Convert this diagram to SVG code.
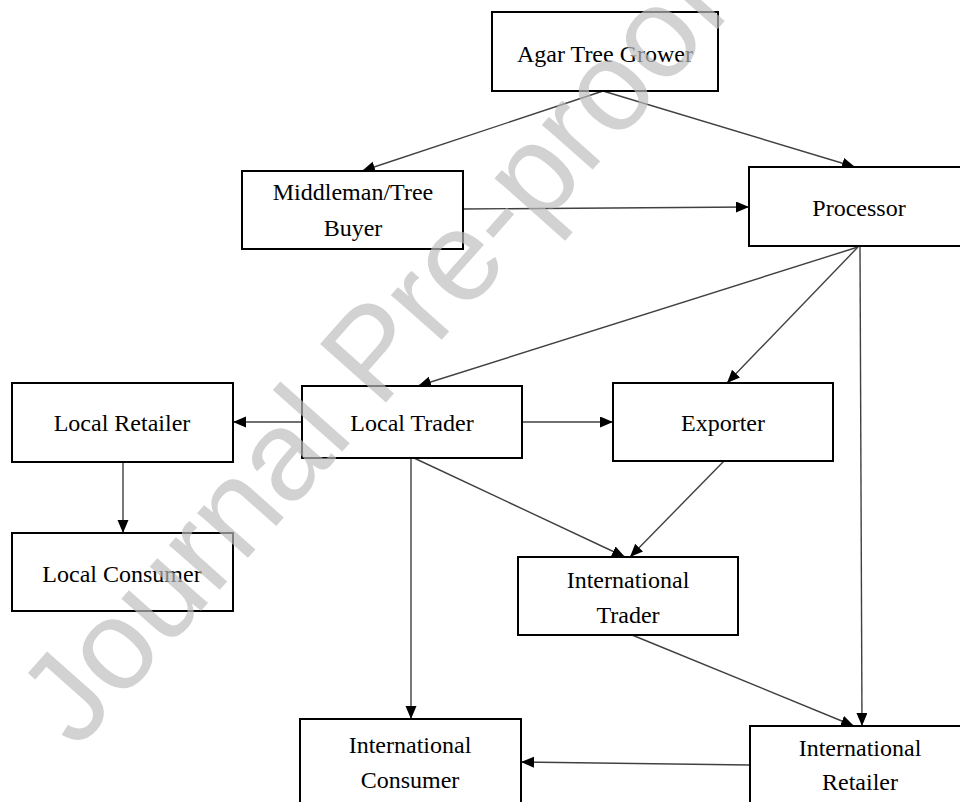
<svg xmlns="http://www.w3.org/2000/svg" width="960" height="802" viewBox="0 0 960 802">
<defs>
<marker id="ah" markerUnits="userSpaceOnUse" markerWidth="14" markerHeight="12" refX="13" refY="5.5" orient="auto">
<path d="M0,0 L13,5.5 L0,11 z" fill="#000"/>
</marker>
<style>
.box{fill:#fff;stroke:#000;stroke-width:2}
.lbl{font-family:"Times New Roman",Times,"Liberation Serif","DejaVu Serif",serif;font-size:24px;fill:#000;text-anchor:middle}
.edge{fill:none;stroke:#404040;stroke-width:1.4;marker-end:url(#ah)}
.wm{font-family:"Liberation Sans",Arial,sans-serif;font-size:128px;fill:#bdbdbd;opacity:0.68;text-anchor:middle}
</style>
</defs>
<rect width="960" height="802" fill="#fff"/>
<g id="connectors">
<line class="edge" x1="603" y1="91" x2="362" y2="171"/>
<line class="edge" x1="603" y1="91" x2="855" y2="167"/>
<line class="edge" x1="463" y1="209" x2="749" y2="207"/>
<line class="edge" x1="858" y1="247" x2="418" y2="386"/>
<line class="edge" x1="858" y1="247" x2="727" y2="383"/>
<line class="edge" x1="860" y1="247" x2="862" y2="726"/>
<line class="edge" x1="302" y1="422" x2="233" y2="422"/>
<line class="edge" x1="522" y1="422" x2="613" y2="422"/>
<line class="edge" x1="123" y1="462" x2="123" y2="533"/>
<line class="edge" x1="411" y1="458" x2="411" y2="719"/>
<line class="edge" x1="414" y1="458" x2="625" y2="557"/>
<line class="edge" x1="724" y1="461" x2="630" y2="557"/>
<line class="edge" x1="632" y1="635" x2="854" y2="726"/>
<line class="edge" x1="750" y1="765" x2="521" y2="762"/>
</g>
<g id="agar-tree-grower">
<rect class="box" x="492" y="12" width="226" height="79"/>
<text class="lbl" x="605" y="62">Agar Tree Grower</text>
</g>
<g id="middleman">
<rect class="box" x="242" y="171" width="221" height="78"/>
<text class="lbl" x="353" y="200">Middleman/Tree</text>
<text class="lbl" x="353" y="236">Buyer</text>
</g>
<g id="processor">
<rect class="box" x="749" y="167" width="220" height="79"/>
<text class="lbl" x="859" y="216">Processor</text>
</g>
<g id="local-retailer">
<rect class="box" x="12" y="383" width="221" height="79"/>
<text class="lbl" x="122" y="431">Local Retailer</text>
</g>
<g id="local-trader">
<rect class="box" x="302" y="386" width="220" height="72"/>
<text class="lbl" x="412" y="431">Local Trader</text>
</g>
<g id="exporter">
<rect class="box" x="613" y="383" width="220" height="78"/>
<text class="lbl" x="723" y="431">Exporter</text>
</g>
<g id="local-consumer">
<rect class="box" x="12" y="533" width="221" height="78"/>
<text class="lbl" x="122" y="582">Local Consumer</text>
</g>
<g id="international-trader">
<rect class="box" x="518" y="557" width="220" height="78"/>
<text class="lbl" x="628" y="588">International</text>
<text class="lbl" x="628" y="623">Trader</text>
</g>
<g id="international-consumer">
<rect class="box" x="300" y="719" width="221" height="90"/>
<text class="lbl" x="410" y="753">International</text>
<text class="lbl" x="410" y="788">Consumer</text>
</g>
<g id="international-retailer">
<rect class="box" x="750" y="726" width="220" height="90"/>
<text class="lbl" x="860" y="756">International</text>
<text class="lbl" x="860" y="790">Retailer</text>
</g>
<text class="wm" transform="translate(405,381) rotate(-48.4)" x="0" y="0">Journal Pre-proof</text>
</svg>
